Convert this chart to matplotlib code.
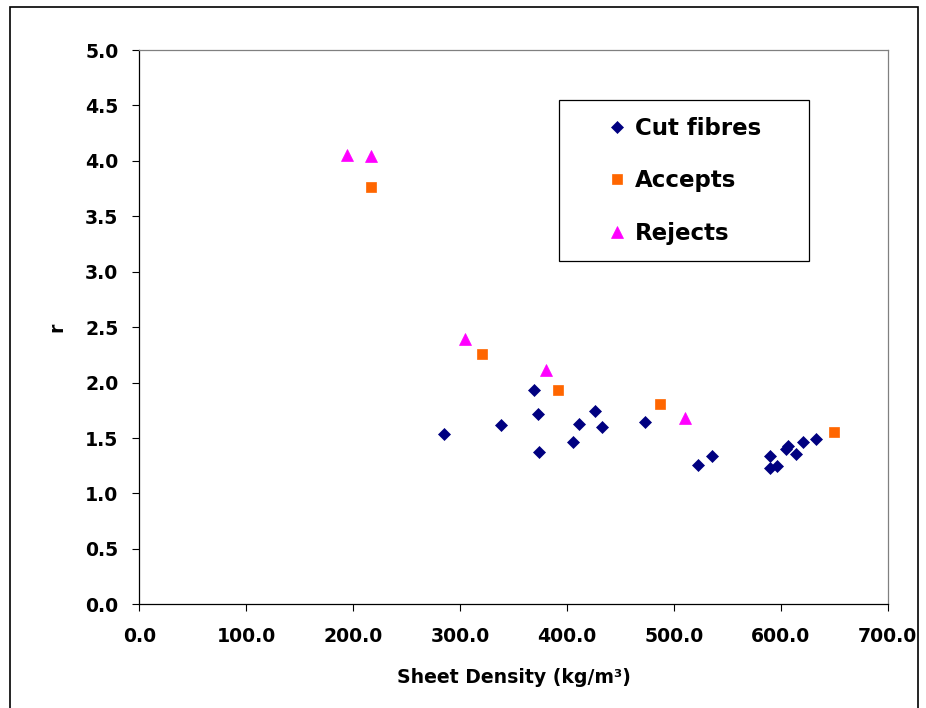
import matplotlib; matplotlib.use("Agg")
import matplotlib.pyplot as plt
from matplotlib.patches import Rectangle
from matplotlib.ticker import FormatStrFormatter, MultipleLocator

plt.rcParams.update({"font.family": "DejaVu Sans", "font.weight": "bold"})

cut_x = [285, 338, 369, 373, 374, 406, 411, 426, 433, 473, 523, 536,
         590, 590, 596, 605, 607, 614, 621, 633]
cut_y = [1.54, 1.62, 1.93, 1.72, 1.37, 1.46, 1.63, 1.74, 1.60, 1.645, 1.255, 1.336,
         1.34, 1.225, 1.246, 1.40, 1.43, 1.354, 1.46, 1.49]
acc_x = [217, 321, 392, 487, 650]
acc_y = [3.76, 2.26, 1.93, 1.81, 1.55]
rej_x = [194, 217, 305, 380, 510]
rej_y = [4.05, 4.04, 2.39, 2.11, 1.685]

W, H = 926, 708
fig = plt.figure(figsize=(W/100, H/100), dpi=100)
ax = fig.add_axes([139.3/W, 1-604.3/H, 748.4/W, 554.3/H])

ax.plot(cut_x, cut_y, ls="none", marker="D", ms=6.2, color="#000080", mec="#000080", mew=0.5, label="Cut fibres")
ax.plot(acc_x, acc_y, ls="none", marker="s", ms=7.6, color="#FF6600", mec="#FF6600", mew=0.5, label="Accepts")
ax.plot(rej_x, rej_y, ls="none", marker="^", ms=9.2, color="#FF00FF", mec="#FF00FF", mew=0.5, label="Rejects")

ax.set_xlim(0, 700); ax.set_ylim(0, 5)
ax.xaxis.set_major_locator(MultipleLocator(100))
ax.yaxis.set_major_locator(MultipleLocator(0.5))
ax.xaxis.set_major_formatter(FormatStrFormatter("%.1f"))
ax.yaxis.set_major_formatter(FormatStrFormatter("%.1f"))
ax.tick_params(direction="out", length=5, width=0.8, labelsize=13.6, color="black")
ax.tick_params(axis="y", pad=10)
ax.tick_params(axis="x", pad=11)
for s in ["left", "bottom"]:
    ax.spines[s].set_color("black"); ax.spines[s].set_linewidth(0.9)
for s in ["top", "right"]:
    ax.spines[s].set_color("#808080"); ax.spines[s].set_linewidth(0.9)

ax.set_xlabel("Sheet Density (kg/m³)", fontsize=13.6, fontweight="bold")
ax.set_ylabel("r", fontsize=13.6, fontweight="bold")
ax.xaxis.set_label_coords(0.5, -0.115)
ax.yaxis.set_label_coords(-0.098, 0.5)

# legend box drawn separately, entries placed inside
ax.add_patch(Rectangle((0.5612, 0.6199), 0.334, 0.2899, transform=ax.transAxes,
                       fill=True, fc="white", ec="black", lw=0.9, zorder=3))
leg = ax.legend(loc="center", bbox_to_anchor=(0.7285, 0.7637), frameon=False,
                fontsize=16.5, borderpad=0, labelspacing=1.27, handlelength=0.8,
                handletextpad=0.4, numpoints=1)
leg.set_zorder(4)

fig.add_artist(Rectangle((10/W, -0.01), 908/W, 1-7/H+0.01, transform=fig.transFigure,
                         fill=False, ec="black", lw=1.2))

fig.savefig("out.png", dpi=100)
